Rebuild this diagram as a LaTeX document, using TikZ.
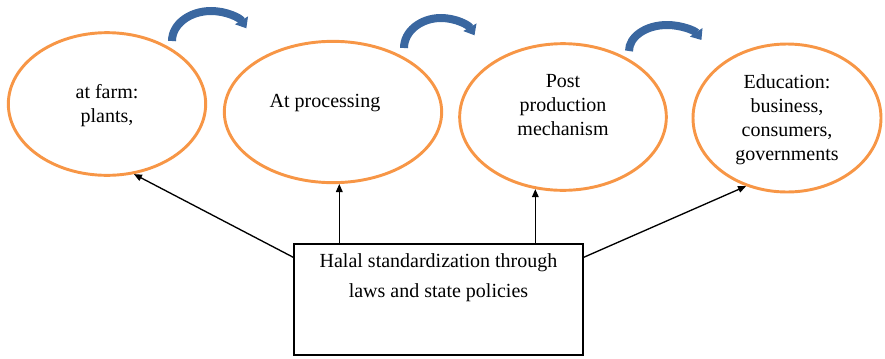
\documentclass[tikz,border=0pt]{standalone}
\usepackage{fontspec}
\setmainfont{Liberation Serif}
\usetikzlibrary{shapes.geometric,arrows.meta}
\definecolor{ringorange}{RGB}{247,150,70}
\definecolor{flowblue}{RGB}{58,103,160}
\begin{document}
\begin{tikzpicture}[x=0.75pt,y=0.75pt,
  stage/.style={ellipse,draw=ringorange,line width=2.2pt,inner sep=0pt},
  stagetext/.style={anchor=north,align=center,inner sep=0pt,
    font=\fontsize{15}{18}\selectfont},
  policy/.style={draw=black,line width=1pt,inner sep=0pt,
    minimum width=216.75pt,minimum height=83.25pt},
  link/.style={draw=black,line width=1pt,-{Triangle[length=6pt,width=5pt]}},
  flow/.style={draw=flowblue,line width=6pt,-{Triangle[length=7pt,width=11pt]}}]
  \useasboundingbox (0,0) rectangle (885,-358);

  % four stages of the chain
  \node[stage,minimum width=148pt,minimum height=107pt] (e1) at (107,-104) {};
  \node[stage,minimum width=163pt,minimum height=106pt] (e2) at (333,-112) {};
  \node[stage,minimum width=155pt,minimum height=110pt] (e3) at (563,-117) {};
  \node[stage,minimum width=141pt,minimum height=111pt] (e4) at (787,-118) {};

  \node[stagetext] (t1) at (107,-84) {at farm:\\plants,};
  \node[stagetext] (t2) at (325,-94) {At processing};
  \node[stagetext] (t3) at (563,-74) {Post\\production\\mechanism};
  \node[stagetext] (t4) at (787,-74) {Education:\\business,\\consumers,\\governments};

  % central policy box
  \node[policy] (box) at (438.5,-299.5) {};
  \node[stagetext,font=\fontsize{15}{22.5}\selectfont] (bt) at (438.5,-253)
    {Halal standardization through\\laws and state policies};

  % connectors from the box to each stage
  \draw[link] ([yshift=-10.5pt]box.north west) -- (e1.-69);
  \draw[link] (box.north -| e2.-85) -- (e2.-85);
  \draw[link] (box.north -| e3.-111) -- (e3.-111);
  \draw[link] ([yshift=-10.5pt]box.north east) -- (e4.-121);

  % curved arrows between stages
  \draw[flow] (172,-41) arc[start angle=180,end angle=25,x radius=39,y radius=30];
  \draw[flow] (404,-48) arc[start angle=180,end angle=25,x radius=37,y radius=30];
  \draw[flow] (629,-51) arc[start angle=180,end angle=25,x radius=38,y radius=26];
\end{tikzpicture}
\end{document}
